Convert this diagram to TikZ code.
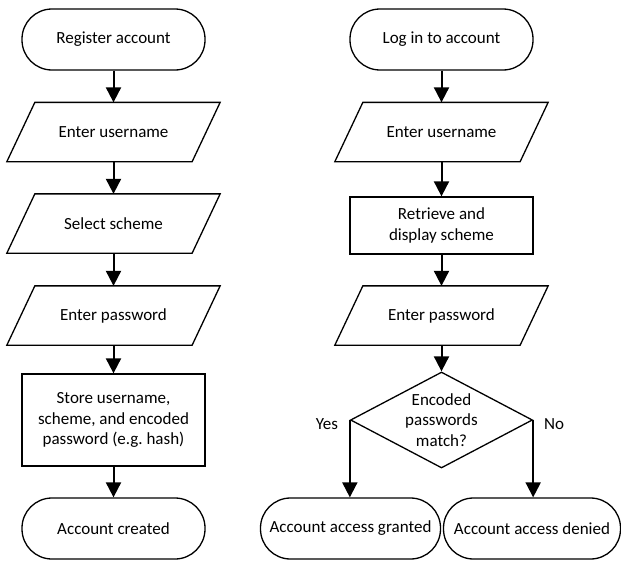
\documentclass[tikz,border=0pt]{standalone}
\usepackage{fontspec}
\setmainfont{Carlito}
\usetikzlibrary{shapes.geometric,arrows.meta}
\begin{document}
\begin{tikzpicture}[x=1pt,y=-1pt,
 base/.style={draw=black,line width=1.3pt,font=\fontsize{17}{20.8}\selectfont,align=center,inner sep=0pt},
 term/.style={base,rectangle,rounded corners=30pt,minimum width=183pt,minimum height=61pt},
 io/.style={base,draw=none,rectangle,minimum width=184pt,minimum height=58pt,
   append after command={\pgfextra{\draw[line width=1.3pt,line join=miter]
     ([xshift=14pt]\tikzlastnode.north west) -- ([xshift=14pt]\tikzlastnode.north east)
     -- ([xshift=-14pt]\tikzlastnode.south east) -- ([xshift=-14pt]\tikzlastnode.south west) -- cycle;}}},
 proc/.style={base,rectangle,minimum width=183pt},
 dec/.style={base,diamond,aspect=1.9,minimum width=182pt,minimum height=96pt},
 arr/.style={line width=2pt,-{Triangle[length=15pt,width=15pt]}},
 lbl/.style={font=\fontsize{17}{20.8}\selectfont,inner sep=0pt}]
\useasboundingbox (0,0) rectangle (621,562);
% left column
\node[term] (t1) at (113.5,39.5) {Register account};
\node[io] (p1) at (113.5,132) {Enter username};
\node[io] (p2) at (113.5,223.5) {Select scheme};
\node[io] (p3) at (113.5,315.5) {Enter password};
\node[proc,minimum height=92pt] (r1) at (113.5,420) {Store username,\\scheme, and encoded\\password (e.g.\ hash)};
\node[term] (t2) at (113.5,528.5) {Account created};
% right column
\node[term] (t3) at (441.5,39.5) {Log in to account};
\node[io] (p4) at (441.5,132) {Enter username};
\node[proc,minimum height=57pt] (r2) at (441.5,225.5) {Retrieve and\\display scheme};
\node[io] (p5) at (441.5,315.5) {Enter password};
\node[dec] (d) at (441.5,420) {Encoded\\passwords\\match?};
\node[term,minimum width=180pt] (t4) at (350.5,528.5) {Account access granted};
\node[term,minimum width=177pt] (t5) at (532,528.5) {Account access denied};
\node[lbl] (yes) at (327,424) {Yes};
\node[lbl] (no) at (554,424) {No};
% arrows
\draw[arr] (t1.south) -- (p1.north);
\draw[arr] (p1.south) -- (p2.north);
\draw[arr] (p2.south) -- (p3.north);
\draw[arr] (p3.south) -- (r1.north);
\draw[arr] (r1.south) -- (t2.north);
\draw[arr] (t3.south) -- (p4.north);
\draw[arr] (p4.south) -- (r2.north);
\draw[arr] (r2.south) -- (p5.north);
\draw[arr] (p5.south) -- (d.north);
\draw[arr] (d.west) -- (d.west |- t4.north);
\draw[arr] (d.east) -- (d.east |- t5.north);
\end{tikzpicture}
\end{document}
